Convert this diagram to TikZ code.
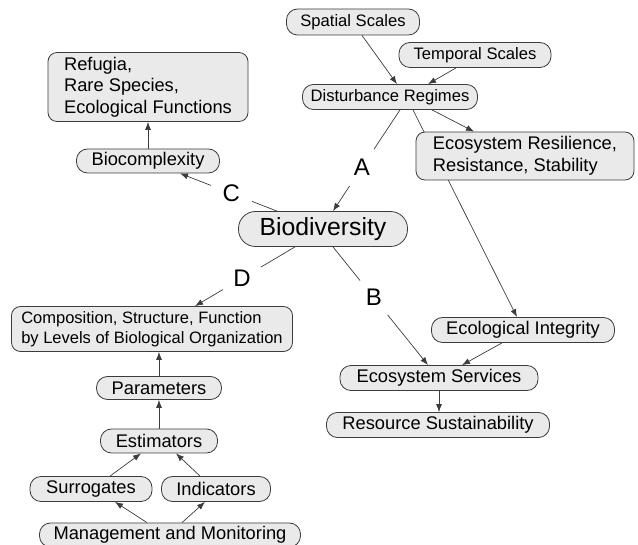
\documentclass[tikz,border=0pt]{standalone}
\usepackage{fontspec}
\setmainfont{Liberation Sans}
\usetikzlibrary{arrows.meta,backgrounds}
\definecolor{boxgray}{RGB}{234,234,234}
\definecolor{linegray}{RGB}{60,60,60}
\begin{document}
\begin{tikzpicture}[x=1pt,y=-1pt,
	box/.style={draw=linegray,fill=boxgray,rounded corners=11pt,line width=0.8pt,inner sep=2pt,font=\fontsize{18.3}{21.5}\selectfont},
	smallbox/.style={box,font=\fontsize{16.6}{20}\selectfont},
	bigbox/.style={box,rounded corners=9pt,align=left},
	arr/.style={draw=linegray,line width=0.7pt,-{Latex[length=8pt,width=6pt]}},
	lbl/.style={fill=white,circle,minimum size=44pt,inner sep=0pt,font=\fontsize{24}{24}\selectfont}]
		\useasboundingbox (0,0) rectangle (638,545);
			% scales and disturbance
			\node[smallbox,minimum width=133pt,minimum height=26pt] (spatial) at (353,22) {Spatial Scales};
			\node[smallbox,minimum width=152pt,minimum height=25pt] (temporal) at (475,55) {Temporal Scales};
			\node[smallbox,minimum width=175pt,minimum height=25pt] (disturb) at (390,97) {Disturbance Regimes};
			\node[bigbox,minimum width=218pt,minimum height=48pt] (resil) at (525,156) {Ecosystem Resilience,\\Resistance, Stability};
			% left upper part
			\node[bigbox,minimum width=200pt,minimum height=69pt] (refugia) at (148,87) {Refugia,\\Rare Species,\\Ecological Functions};
			\node[box,minimum width=143pt,minimum height=24pt] (biocompl) at (148,161) {Biocomplexity};
			\node[box,rounded corners=17pt,font=\fontsize{24.8}{28}\selectfont,minimum width=169pt,minimum height=35pt] (biodiv) at (323,229) {Biodiversity};
			% left lower part
			\node[bigbox,font=\fontsize{16.5}{20}\selectfont,minimum width=281pt,minimum height=45pt] (compos) at (152,329) {Composition, Structure, Function\\by Levels of Biological Organization};
			\node[box,minimum width=125pt,minimum height=23pt] (params) at (159,388) {Parameters};
			\node[box,minimum width=117pt,minimum height=24pt] (estim) at (159,441) {Estimators};
			\node[box,minimum width=122pt,minimum height=25pt] (surrog) at (91,489) {Surrogates};
			\node[box,minimum width=109pt,minimum height=25pt] (indic) at (216,489) {Indicators};
			\node[box,minimum width=261pt,minimum height=24pt] (manage) at (170,535) {Management and Monitoring};
			% right lower part
			\node[box,minimum width=183pt,minimum height=25pt] (integ) at (523,330) {Ecological Integrity};
			\node[box,minimum width=198pt,minimum height=25pt] (services) at (439,378) {Ecosystem Services};
			\node[box,minimum width=223pt,minimum height=25pt] (sustain) at (438,425) {Resource Sustainability};
		\begin{scope}[on background layer]
			\draw[arr] ([xshift=9pt]spatial.south) -- ([xshift=7pt]disturb.north);
			\draw[arr] ([xshift=-19pt]temporal.south) -- ([xshift=38pt]disturb.north);
			\draw[arr] ([xshift=42pt]disturb.south) -- ([xshift=-51pt]resil.north);
			\draw[arr] ([xshift=23pt]disturb.south) -- ([xshift=-6pt]integ.north);
			\draw[arr] ([xshift=10pt]disturb.south) -- node[lbl,pos=0.57]{A} ([xshift=10pt]biodiv.north);
			\draw[arr] ([xshift=-46pt]biodiv.north) -- node[lbl,pos=0.47]{C} ([xshift=32pt]biocompl.south);
			\draw[arr] ([xshift=-28pt]biodiv.south) -- node[lbl,pos=0.53]{D} ([xshift=43pt]compos.north);
			\draw[arr] ([xshift=10pt]biodiv.south) -- node[lbl,pos=0.43]{B} ([xshift=-11pt]services.north);
			\draw[arr] (biocompl) -- (refugia);
			\draw[arr] ([xshift=-21pt]integ.south) -- ([xshift=23pt]services.north);
			\draw[arr] (services.south) -- (services.south |- sustain.north);
			\draw[arr] (params.north) -- (params.north |- compos.south);
			\draw[arr] (estim) -- (params);
			\draw[arr] ([xshift=19pt]surrog.north) -- ([xshift=-18pt]estim.south);
			\draw[arr] ([xshift=-16pt]indic.north) -- ([xshift=17pt]estim.south);
			\draw[arr] ([xshift=-23pt]manage.north) -- ([xshift=24pt]surrog.south);
			\draw[arr] ([xshift=12pt]manage.north) -- ([xshift=-11pt]indic.south);
		\end{scope}
	\end{tikzpicture}
\end{document}
